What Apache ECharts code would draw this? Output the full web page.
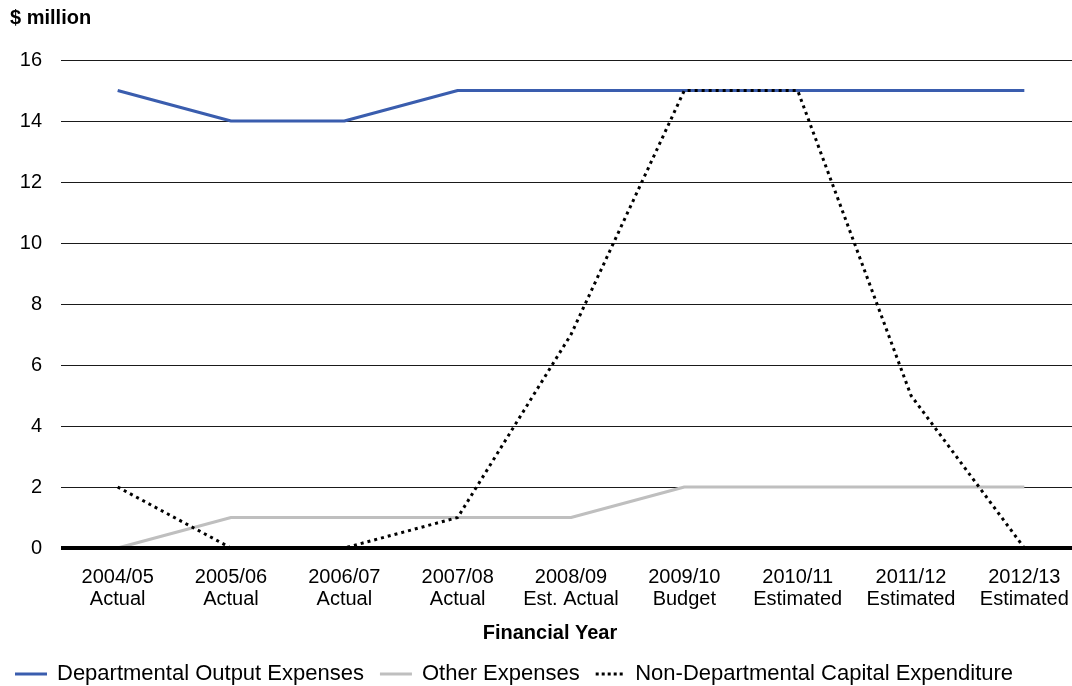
<!DOCTYPE html>
<html>
<head>
<meta charset="utf-8">
<script src="https://cdn.jsdelivr.net/npm/echarts@6/dist/echarts.min.js"></script>
<style>html,body{margin:0;padding:0;background:#fff;}#c{width:1072px;height:686px;}</style>
</head>
<body>
<div id="c"></div>
<script>
var categories = ['2004/05\nActual','2005/06\nActual','2006/07\nActual','2007/08\nActual','2008/09\nEst. Actual','2009/10\nBudget','2010/11\nEstimated','2011/12\nEstimated','2012/13\nEstimated'];
var departmental = [15,14,14,15,15,15,15,15,15];
var otherExp = [0,1,1,1,1,2,2,2,2];
var nonDeptCapital = [2,0,0,1,7,15,15,5,0];
var yTicks = {min:0, max:16, interval:2};

var FONT = '"Liberation Sans", Arial, sans-serif';
var dotIcon = 'path://M0,0h3v3h-3zM6,0h3v3h-3zM12,0h3v3h-3zM18,0h3v3h-3zM24,0h3v3h-3z';
var chart = echarts.init(document.getElementById('c'), null, {renderer:'canvas'});
chart.setOption({
  animation:false,
  backgroundColor:'#fff',
  grid:{left:61, width:1020, top:60, bottom:138, containLabel:false, outerBoundsMode:'none'},
  graphic:[
    {type:'text', left:10, top:8, style:{text:'$ million', font:'bold 20px '+FONT, fill:'#000'}},
    {type:'text', x:550, y:633, style:{text:'Financial Year', font:'bold 20px '+FONT, fill:'#000', textAlign:'center', textVerticalAlign:'middle'}}
  ],
  legend:{
    left:10, top:658, itemWidth:32, itemHeight:3, itemGap:16,
    textStyle:{fontFamily:FONT, fontSize:22, color:'#000', padding:[0,0,0,5]},
    data:[
      {name:'Departmental Output Expenses', icon:'rect', itemStyle:{color:'#3A5DAE'}},
      {name:'Other Expenses', icon:'rect', itemStyle:{color:'#BFBFBF'}},
      {name:'Non-Departmental Capital Expenditure', icon:dotIcon, itemStyle:{color:'#000'}}
    ]
  },
  xAxis:{
    type:'category', data:categories, boundaryGap:true,
    axisLine:{show:false}, axisTick:{show:false},
    axisLabel:{fontFamily:FONT, fontSize:20, color:'#000', lineHeight:22, margin:18, interval:0}
  },
  yAxis:{
    type:'value', min:yTicks.min, max:yTicks.max, interval:yTicks.interval,
    axisLine:{show:false}, axisTick:{show:false},
    axisLabel:{fontFamily:FONT, fontSize:20, color:'#000', margin:19},
    splitLine:{show:true, lineStyle:{color:'#1a1a1a', width:1.2}}
  },
  series:[
    {name:'Departmental Output Expenses', type:'line', data:departmental, symbol:'none',
     lineStyle:{color:'#3A5DAE', width:3}, itemStyle:{color:'#3A5DAE'}, z:3},
    {name:'Other Expenses', type:'line', data:otherExp, symbol:'none',
     lineStyle:{color:'#BFBFBF', width:3}, itemStyle:{color:'#BFBFBF'}, z:2},
    {name:'Non-Departmental Capital Expenditure', type:'line', data:nonDeptCapital, symbol:'none',
     lineStyle:{color:'#000', width:3, type:[3,4]}, itemStyle:{color:'#000'}, z:4,
     markLine:{silent:true, symbol:'none', label:{show:false},
       lineStyle:{color:'#000', width:4, type:'solid'}, data:[{yAxis:0}], z:5}}
  ]
});
</script>
</body>
</html>
